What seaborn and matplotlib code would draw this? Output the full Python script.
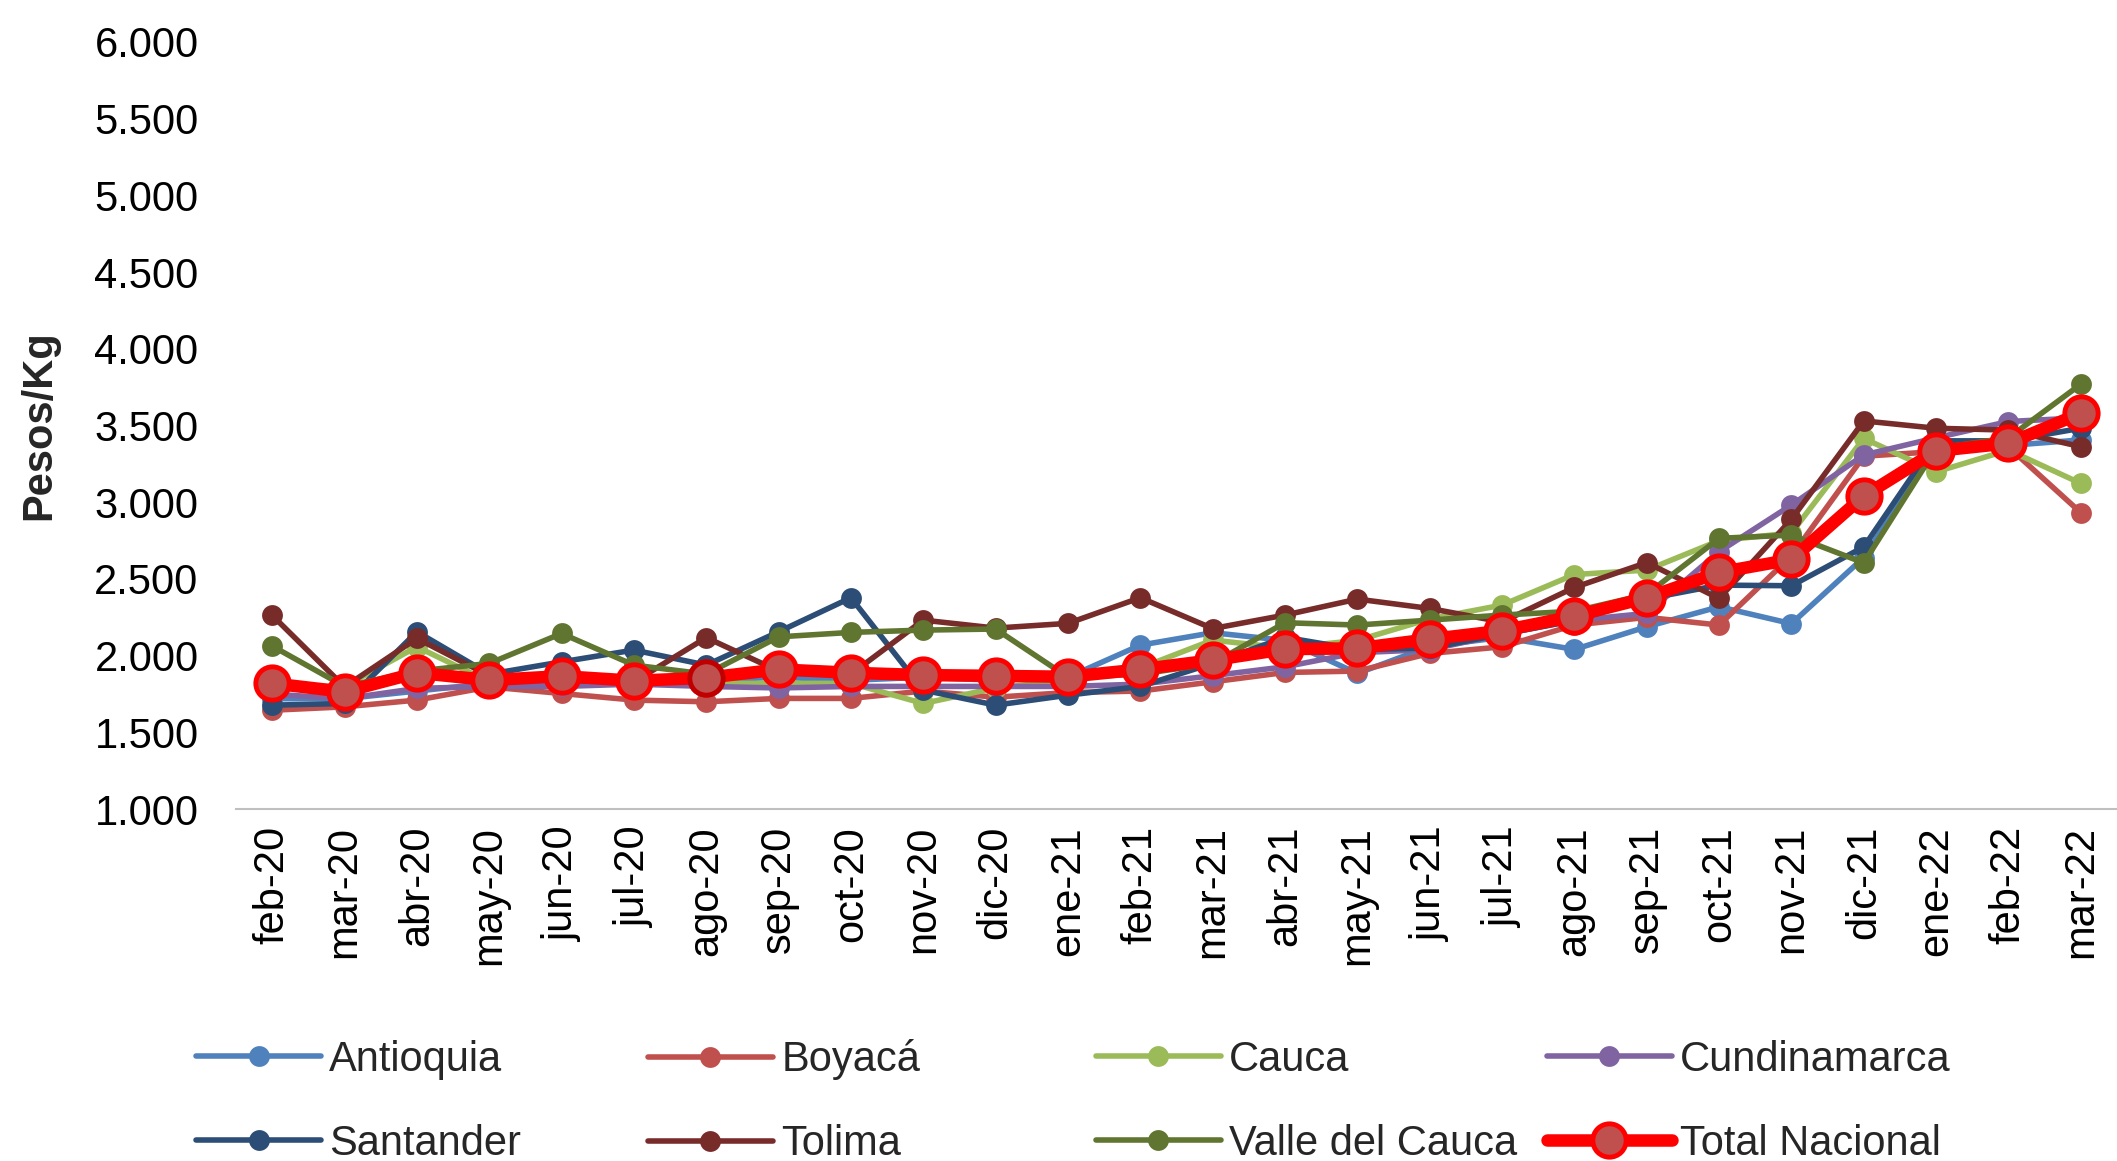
import numpy as np
import pandas as pd
import matplotlib
matplotlib.use('Agg')
import matplotlib.pyplot as plt
from matplotlib.ticker import FuncFormatter
import seaborn as sns

# Precio mensual por departamento (pesos/kg), feb-20 .. mar-22
months = ['feb-20', 'mar-20', 'abr-20', 'may-20', 'jun-20', 'jul-20', 'ago-20', 'sep-20',
          'oct-20', 'nov-20', 'dic-20', 'ene-21', 'feb-21', 'mar-21', 'abr-21', 'may-21',
          'jun-21', 'jul-21', 'ago-21', 'sep-21', 'oct-21', 'nov-21', 'dic-21', 'ene-22',
          'feb-22', 'mar-22']

antioquia = [1720, 1720, 1770, 1820, 1830, 1830, 1840, 1860, 1840, 1860, 1840, 1860, 2069,
             2150, 2100, 1885, 2060, 2120, 2041, 2189, 2319, 2209, 2640, 3370, 3370, 3406]
boyaca = [1645, 1667, 1711, 1797, 1754, 1711, 1700, 1722, 1722, 1770, 1730, 1760, 1770,
          1830, 1891, 1900, 2015, 2058, 2200, 2250, 2200, 2650, 3300, 3330, 3360, 2932]
cauca = [1800, 1800, 2058, 1830, 1850, 1840, 1820, 1820, 1820, 1689, 1790, 1840, 1920,
         2102, 2050, 2100, 2240, 2330, 2529, 2558, 2750, 2800, 3416, 3198, 3340, 3123]
cundinamarca = [1750, 1720, 1787, 1800, 1800, 1815, 1800, 1790, 1800, 1800, 1800, 1800, 1815,
                1870, 1928, 2020, 2040, 2140, 2230, 2276, 2678, 2982, 3308, 3420, 3526, 3550]
santander = [1678, 1689, 2156, 1880, 1960, 2037, 1939, 2156, 2378, 1776, 1678, 1743, 1800,
             1950, 2120, 2040, 2050, 2140, 2230, 2370, 2460, 2456, 2709, 3400, 3400, 3482]
tolima = [2263, 1797, 2113, 1870, 1840, 1830, 2118, 1900, 1880, 2232, 2180, 2211, 2378,
          2177, 2265, 2369, 2308, 2220, 2445, 2607, 2373, 2889, 3530, 3482, 3470, 3362]
valle = [2063, 1800, 1900, 1950, 2145, 1939, 1880, 2123, 2152, 2167, 2174, 1860, 1880,
         1950, 2215, 2200, 2232, 2265, 2290, 2400, 2765, 2786, 2605, 3350, 3420, 3769]
total = [1820, 1765, 1889, 1841, 1867, 1837, 1856, 1911, 1889, 1874, 1869, 1863, 1911,
         1971, 2043, 2048, 2108, 2163, 2258, 2378, 2543, 2627, 3041, 3334, 3384, 3580]

regions = ['Antioquia', 'Boyacá', 'Cauca', 'Cundinamarca', 'Santander', 'Tolima',
           'Valle del Cauca', 'Total Nacional']
series = [antioquia, boyaca, cauca, cundinamarca, santander, tolima, valle, total]
colors = ['#4F81BD', '#C0504D', '#9BBB59', '#8064A2', '#2C4D75', '#772C2A', '#5F7530', '#FF0000']

df = pd.DataFrame({
    'pos': np.tile(np.arange(len(months)), len(regions)),
    'month': np.tile(months, len(regions)),
    'region': np.repeat(regions, len(months)),
    'value': np.concatenate(series),
})

sns.set_theme(style='white')
plt.rcParams['font.family'] = ['Liberation Sans', 'DejaVu Sans']

fig = plt.figure(figsize=(21.17, 11.61), dpi=100)
ax = fig.add_axes([0.1115, 0.303, 0.8885, 0.661])

for name, col in zip(regions, colors):
    sub = df[df['region'] == name]
    if name == 'Total Nacional':
        sns.lineplot(data=sub, x='pos', y='value', ax=ax, color=col, linewidth=9,
                     marker='o', markersize=24, markerfacecolor='#C0504D',
                     markeredgecolor='#FF0000', markeredgewidth=3.5, label=name, zorder=5)
        # Excel dejó el marcador de ago-20 con borde más oscuro
        pt = sub[sub['month'] == 'ago-20']
        ax.plot(pt['pos'], pt['value'], 'o', markersize=24, markerfacecolor='#C0504D',
                markeredgecolor='#C00000', markeredgewidth=3.5, zorder=6)
    else:
        sns.lineplot(data=sub, x='pos', y='value', ax=ax, color=col, linewidth=4,
                     marker='o', markersize=15, markeredgecolor=col, markeredgewidth=0,
                     label=name, zorder=3)

ax.set_xlim(-0.5, len(months) - 0.5)
ax.set_ylim(1000, 6000)
ax.set_yticks(np.arange(1000, 6001, 500))
ax.yaxis.set_major_formatter(FuncFormatter(lambda v, p: f"{v:,.0f}".replace(',', '.')))
ax.set_xticks(np.arange(len(months)))
ax.set_xticklabels(months, rotation=90)
ax.set_xticks(np.arange(-0.5, len(months), 1), minor=True)

ax.tick_params(axis='y', length=0, labelsize=30, pad=27, labelcolor='black')
ax.tick_params(axis='x', which='major', length=0, labelsize=30, pad=12, labelcolor='black')
ax.tick_params(axis='x', which='minor', length=10, width=1.5, color='#BFBFBF', direction='out')

for s in ['top', 'right', 'left']:
    ax.spines[s].set_visible(False)
ax.spines['bottom'].set_color('#BFBFBF')
ax.spines['bottom'].set_linewidth(1.5)

ax.set_xlabel('')
ax.set_ylabel('Pesos/Kg', fontsize=30, fontweight='bold', labelpad=30)
ax.yaxis.set_label_coords(-0.094, 0.5)
ax.grid(False)

# leyenda en 4 columnas de igual ancho, llenadas por filas
handles, labels = ax.get_legend_handles_labels()
ax.get_legend().remove()
col_x = [0.0926, 0.306, 0.5177, 0.7307]
for i, x0 in enumerate(col_x):
    leg = fig.legend([handles[i], handles[i + 4]], [labels[i], labels[i + 4]],
                     frameon=False, fontsize=30, loc='center left',
                     bbox_to_anchor=(x0, 0.051), borderpad=0, borderaxespad=0,
                     handlelength=3.0, handletextpad=0.2, labelspacing=1.05)

fig.savefig('out.png', dpi=100, facecolor='white')
